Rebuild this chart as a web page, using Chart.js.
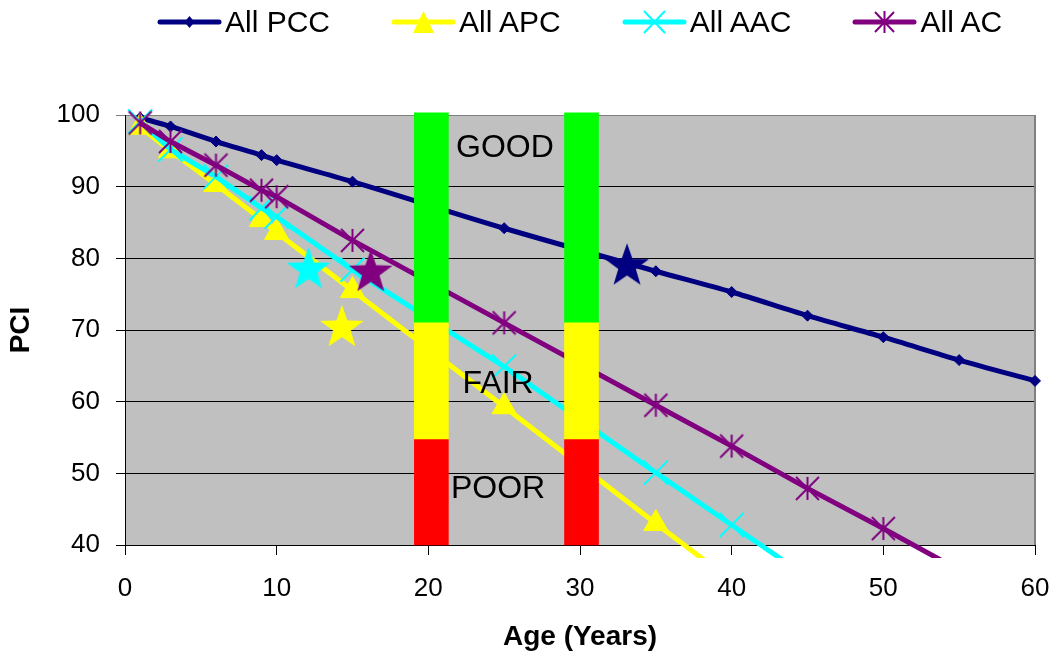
<!DOCTYPE html>
<html>
<head>
<meta charset="utf-8">
<script src="https://cdn.jsdelivr.net/npm/chart.js@4.4.1/dist/chart.umd.min.js"></script>
<style>
  html, body { margin: 0; padding: 0; background: #fff; }
  #wrap { position: relative; width: 1053px; height: 655px; }
  #pciChart { position: absolute; left: 0; top: 0; }
  .legend { position: absolute; left: 157px; top: 7px; width: 900px; display: flex; align-items: center;
            font-family: Arial, "Liberation Sans", sans-serif; font-size: 30px; line-height: 30px;
            color: #000; white-space: nowrap; }
  .legend-item { display: flex; align-items: center; flex-shrink: 0; margin-right: 61px; }
  .legend-item svg { margin-right: 3px; flex-shrink: 0; }
</style>
</head>
<body>
<div id="wrap">
  <canvas id="pciChart" width="1053" height="655"></canvas>
  <div class="legend"></div>
</div>
<script>
const seriesNames = ['All PCC', 'All APC', 'All AAC', 'All AC'];
const seriesColors = ['#000080', '#FFFF00', '#00FFFF', '#800080'];

const pccAge = [1, 3, 6, 9, 10, 15, 25, 35, 40, 45, 50, 55, 60];
const pccPci = [99.6, 98.4, 96.3, 94.4, 93.7, 90.7, 84.2, 78.2, 75.3, 72.0, 69.0, 65.8, 62.9];

const apcAge = [1, 3, 6, 9, 10, 15, 25, 35, 40];
const apcPci = [98.3, 95.0, 90.3, 85.4, 83.6, 75.5, 59.3, 43.0, 35.0];

const aacAge = [1, 3, 6, 9, 10, 15, 25, 35, 40, 45];
const aacPci = [99.1, 95.2, 91.4, 87.0, 85.8, 78.4, 64.9, 50.1, 42.8, 35.5];

const acAge = [1, 3, 6, 9, 10, 15, 25, 35, 40, 45, 50, 55];
const acPci = [98.9, 96.3, 93.0, 89.5, 88.6, 82.5, 71.0, 59.5, 53.8, 47.9, 42.3, 36.5];

// big star markers (PCC, APC, AAC, AC)
const starAge = [33.1, 14.3, 12.1, 16.2];
const starPci = [78.9, 70.3, 78.4, 78.0];

// condition bands drawn at two ages
const bandAge = [20.2, 30.1];
const bandNames = ['POOR', 'FAIR', 'GOOD'];
const bandLow = [40, 54.7, 71];
const bandHigh = [54.7, 71, 100.3];
const bandColors = ['#FF0000', '#FFFF00', '#00FF00'];
const bandLabelAge = [24.6, 24.6, 25.05];
const bandLabelPci = [47.8, 62.5, 95.4];

const xTicks = [0, 10, 20, 30, 40, 50, 60];
const yTicks = [40, 50, 60, 70, 80, 90, 100];

const FONT = 'Arial, "Liberation Sans", sans-serif';
Chart.defaults.font.family = FONT;
Chart.defaults.color = '#000';

const pts = (xs, ys) => xs.map((x, i) => ({ x: x, y: ys[i] }));

function starCanvas(color, r) {
  const c = document.createElement('canvas');
  c.width = c.height = 2 * r + 2;
  const g = c.getContext('2d');
  g.beginPath();
  for (let i = 0; i < 10; i++) {
    const rad = i % 2 ? r * 0.4 : r;
    const a = -Math.PI / 2 + i * Math.PI / 5;
    g.lineTo(r + 1 + rad * Math.cos(a), r + 1 + rad * Math.sin(a));
  }
  g.closePath();
  g.fillStyle = color;
  g.fill();
  return c;
}

function asteriskCanvas(color, r) {
  const c = document.createElement('canvas');
  c.width = c.height = 2 * r + 4;
  const g = c.getContext('2d');
  const m = r + 2;
  g.strokeStyle = color;
  g.lineWidth = 2;
  g.beginPath();
  g.moveTo(m, m - r); g.lineTo(m, m + r);
  g.moveTo(m - r, m - r); g.lineTo(m + r, m + r);
  g.moveTo(m + r, m - r); g.lineTo(m - r, m + r);
  g.stroke();
  return c;
}

const lineClip = { left: 12, top: 10, right: 12, bottom: 13 };

const lineSets = [
  { age: pccAge, pci: pccPci, style: 'rectRot', radius: 5.5, tension: 0.3, order: 5 },
  { age: apcAge, pci: apcPci, style: 'triangle', radius: 14, tension: 0, order: 4 },
  { age: aacAge, pci: aacPci, style: 'crossRot', radius: 17, tension: 0, order: 3 },
  { age: acAge, pci: acPci, style: asteriskCanvas(seriesColors[3], 11.5), radius: 12, tension: 0, order: 2 }
].map((s, i) => ({
  type: 'line',
  label: seriesNames[i],
  data: pts(s.age, s.pci),
  borderColor: seriesColors[i],
  backgroundColor: seriesColors[i],
  borderWidth: 5,
  tension: s.tension,
  pointStyle: s.style,
  pointRadius: s.radius,
  pointBorderWidth: (s.style === 'crossRot') ? 2 : 1,
  pointBackgroundColor: seriesColors[i],
  pointBorderColor: seriesColors[i],
  clip: lineClip,
  order: s.order
}));

const starSet = {
  type: 'line',
  label: 'stars',
  data: pts(starAge, starPci),
  showLine: false,
  pointStyle: seriesColors.map(c => starCanvas(c, 23)),
  pointRadius: 23,
  clip: false,
  order: 1
};

const bandSets = bandNames.map((name, i) => ({
  type: 'bar',
  label: name,
  data: bandAge.map(a => ({ x: a, y: [bandLow[i], bandHigh[i]] })),
  backgroundColor: bandColors[i],
  borderWidth: 0,
  barThickness: 34,
  grouped: false,
  clip: false,
  order: 0
}));

const plotBackground = {
  id: 'plotBackground',
  beforeDraw(chart) {
    const { ctx, chartArea: a } = chart;
    ctx.save();
    ctx.fillStyle = '#C0C0C0';
    ctx.fillRect(a.left, a.top, a.right - a.left, a.bottom - a.top);
    ctx.restore();
  },
  beforeDatasetsDraw(chart) {
    const { ctx, chartArea: a } = chart;
    ctx.save();
    ctx.strokeStyle = '#808080';
    ctx.lineWidth = 2;
    ctx.beginPath();
    ctx.moveTo(a.right, a.top);
    ctx.lineTo(a.right, a.bottom);
    ctx.stroke();
    ctx.restore();
  }
};

const zoneText = {
  id: 'zoneText',
  afterDatasetsDraw(chart) {
    const { ctx, scales: { x, y } } = chart;
    ctx.save();
    ctx.font = '32px ' + FONT;
    ctx.fillStyle = '#000';
    ctx.textAlign = 'center';
    ctx.textBaseline = 'middle';
    bandNames.forEach((t, i) => {
      ctx.fillText(t, x.getPixelForValue(bandLabelAge[i]), y.getPixelForValue(bandLabelPci[i]));
    });
    ctx.restore();
  }
};

new Chart(document.getElementById('pciChart'), {
  type: 'line',
  data: { datasets: [...bandSets, starSet, ...lineSets] },
  options: {
    responsive: false,
    animation: false,
    layout: { autoPadding: false, padding: { top: 115, right: 18, left: 0, bottom: 0 } },
    plugins: { legend: { display: false }, tooltip: { enabled: false } },
    scales: {
      x: {
        type: 'linear', min: 0, max: 60, offset: false,
        afterBuildTicks: s => { s.ticks = xTicks.map(v => ({ value: v })); },
        afterFit: s => { s.height = 110; s.paddingLeft = 0; s.paddingRight = 0; },
        ticks: { font: { size: 26 }, color: '#000', padding: 18, maxRotation: 0 },
        grid: { drawOnChartArea: false, offset: false, tickLength: 10, color: '#000' },
        border: { color: '#000', width: 1 },
        title: { display: true, text: 'Age (Years)', font: { size: 28, weight: 'bold' }, color: '#000',
                 padding: { top: 0, bottom: 1 } }
      },
      y: {
        type: 'linear', min: 40, max: 100,
        afterBuildTicks: s => { s.ticks = yTicks.map(v => ({ value: v })); },
        afterFit: s => { s.width = 125; s.paddingTop = 0; s.paddingBottom = 0; },
        ticks: { font: { size: 26 }, color: '#000', padding: 16 },
        grid: { tickLength: 9, color: ctx => (ctx.tick && ctx.tick.value === 100) ? '#808080' : '#000' },
        border: { color: '#000', width: 1 },
        title: { display: true, text: 'PCI', font: { size: 28, weight: 'bold' }, color: '#000',
                 padding: { top: 4, bottom: 0 } }
      }
    }
  },
  plugins: [plotBackground, zoneText]
});

// legend with line + marker, like the spreadsheet legend
const legendMarks = [
  `<polygon points="32.5,7 37.5,13 32.5,19 27.5,13" fill="${seriesColors[0]}"/>`,
  `<polygon points="32.5,2 43,24 22,24" fill="${seriesColors[1]}"/>`,
  `<path d="M22,2 L43,24 M43,2 L22,24" stroke="${seriesColors[2]}" stroke-width="2"/>`,
  `<path d="M32.5,2 L32.5,24 M23,3 L42,23 M42,3 L23,23" stroke="${seriesColors[3]}" stroke-width="2"/>`
];
document.querySelector('.legend').innerHTML = seriesNames.map((n, i) => `
  <div class="legend-item">
    <svg width="65" height="26" viewBox="0 0 65 26">
      <line x1="3" y1="13" x2="62" y2="13" stroke="${seriesColors[i]}" stroke-width="5" stroke-linecap="round"/>
      ${legendMarks[i]}
    </svg><span>${n}</span>
  </div>`).join('');
</script>
</body>
</html>
